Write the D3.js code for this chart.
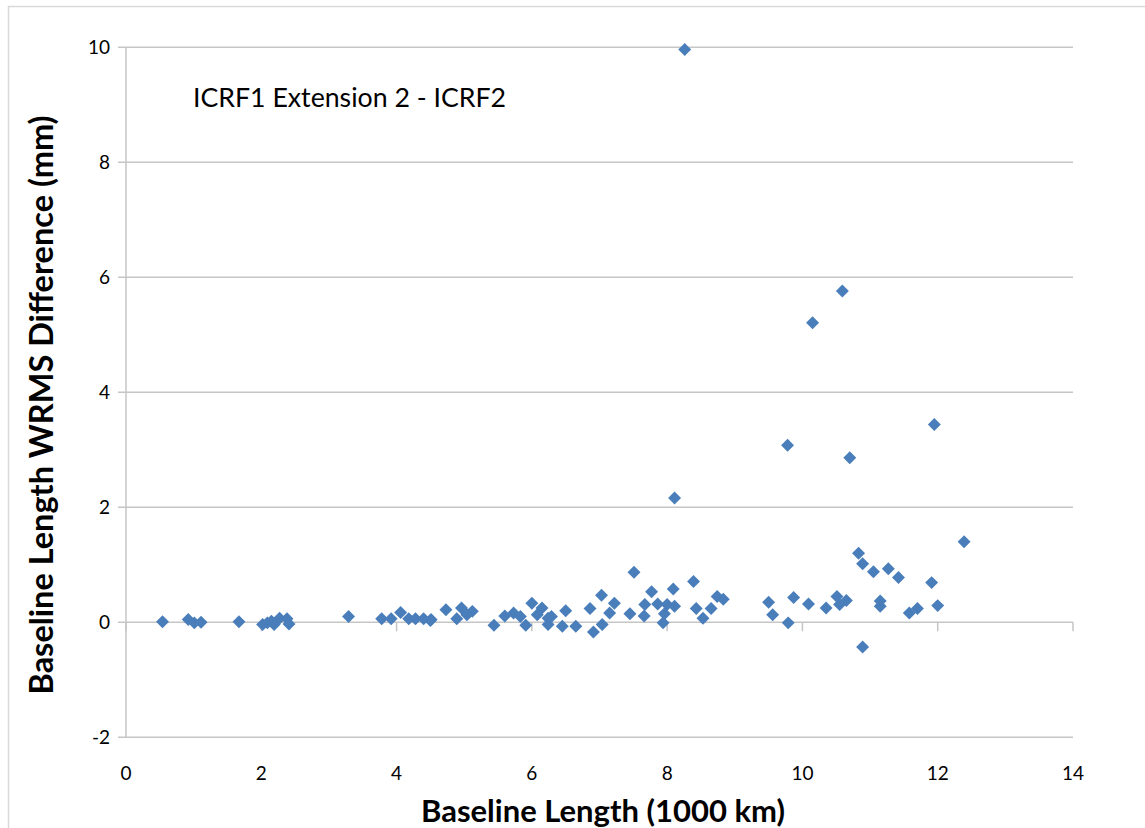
<!DOCTYPE html>
<html>
<head>
<meta charset="utf-8">
<script src="https://cdn.jsdelivr.net/npm/d3@7"></script>
<style>
  body { margin: 0; background: #fff; }
  svg text { font-family: Lato, "Open Sans", sans-serif; fill: #000; }
</style>
</head>
<body>
<svg id="chart" width="1145" height="828"></svg>
<script>
// baseline length (1000 km)
var lengths = [
  0.54, 0.92, 1.01, 1.11, 1.67, 2.02, 2.09, 2.15, 2.19, 2.27, 2.38, 2.41,
  3.29, 3.78, 3.92, 4.06, 4.18, 4.28, 4.40, 4.50, 4.51, 4.73, 4.96, 4.89,
  5.04, 5.12, 5.44, 5.60, 5.73, 5.83, 5.91, 6.00, 6.08, 6.15, 6.24, 6.24,
  6.29, 6.45, 6.50, 6.65, 6.86, 6.91, 7.03, 7.04, 7.15, 7.22, 7.45, 7.51,
  7.66, 7.67, 7.77, 7.86, 7.94, 8.00, 7.96, 8.09, 8.11, 8.11, 8.26, 8.39,
  8.43, 8.53, 8.65, 8.74, 8.83, 9.50, 9.56, 9.78, 9.79, 9.87, 10.09, 10.15,
  10.35, 10.51, 10.55, 10.59, 10.65, 10.70, 10.83, 10.89, 10.89, 11.05, 11.15, 11.15,
  11.27, 11.42, 11.58, 11.70, 11.91, 11.95, 12.00, 12.39
];
// WRMS difference (mm)
var wrms = [
  0.01, 0.05, -0.01, 0.00, 0.01, -0.04, -0.01, 0.02, -0.04, 0.07, 0.06, -0.03,
  0.10, 0.06, 0.06, 0.17, 0.06, 0.06, 0.06, 0.03, 0.05, 0.22, 0.25, 0.06,
  0.13, 0.19, -0.05, 0.11, 0.16, 0.10, -0.05, 0.33, 0.13, 0.25, 0.07, -0.04,
  0.10, -0.07, 0.20, -0.07, 0.24, -0.17, 0.47, -0.04, 0.16, 0.33, 0.15, 0.87,
  0.11, 0.31, 0.53, 0.32, -0.01, 0.31, 0.15, 0.58, 0.28, 2.16, 9.96, 0.71,
  0.24, 0.07, 0.24, 0.45, 0.40, 0.35, 0.13, 3.08, -0.01, 0.43, 0.32, 5.21,
  0.25, 0.45, 0.31, 5.76, 0.38, 2.86, 1.20, 1.02, -0.43, 0.88, 0.37, 0.28,
  0.93, 0.78, 0.16, 0.24, 0.69, 3.44, 0.29, 1.40
];
var xTicks = [0, 2, 4, 6, 8, 10, 12, 14];
var yTicks = [-2, 0, 2, 4, 6, 8, 10];

var svg = d3.select('#chart');
var margin = {top: 47.3, right: 72, bottom: 90.7, left: 126},
    width  = 1145 - margin.left - margin.right,
    height = 828 - margin.top - margin.bottom;

// outer chart border
svg.append('rect')
   .attr('x', 8.5).attr('y', 6.5)
   .attr('width', 1150).attr('height', 840)
   .attr('fill', 'none').attr('stroke', '#d9d9d9').attr('stroke-width', 1.5);

var g = svg.append('g')
           .attr('transform', 'translate(' + margin.left + ',' + margin.top + ')');

var x = d3.scaleLinear().domain([0, 14]).range([0, width]),
    y = d3.scaleLinear().domain([-2, 10]).range([height, 0]);

// gridlines
g.selectAll('line.grid')
 .data(yTicks)
 .enter().append('line')
   .attr('class', 'grid')
   .attr('x1', -8).attr('x2', width)
   .attr('y1', function (d) { return y(d); })
   .attr('y2', function (d) { return y(d); })
   .attr('stroke', '#c6c6c6').attr('stroke-width', 1.5);

// vertical axis line
g.append('line')
 .attr('x1', 0).attr('x2', 0)
 .attr('y1', 0).attr('y2', height)
 .attr('stroke', '#c6c6c6').attr('stroke-width', 1.5);

// horizontal axis crosses at 0, tick marks down from it
g.selectAll('line.xtick')
 .data(xTicks)
 .enter().append('line')
   .attr('class', 'xtick')
   .attr('x1', function (d) { return x(d); })
   .attr('x2', function (d) { return x(d); })
   .attr('y1', y(0)).attr('y2', y(0) + 9)
   .attr('stroke', '#c6c6c6').attr('stroke-width', 1.5);

// tick labels
g.selectAll('text.ylab')
 .data(yTicks)
 .enter().append('text')
   .attr('class', 'ylab')
   .attr('x', -16)
   .attr('y', function (d) { return y(d); })
   .attr('dy', '0.35em')
   .attr('text-anchor', 'end')
   .style('font-size', '19px')
   .text(function (d) { return d; });

g.selectAll('text.xlab')
 .data(xTicks)
 .enter().append('text')
   .attr('class', 'xlab')
   .attr('x', function (d) { return x(d); })
   .attr('y', height + 36)
   .attr('dy', '0.35em')
   .attr('text-anchor', 'middle')
   .style('font-size', '19px')
   .text(function (d) { return d; });

// points
var pts = lengths.map(function (d, i) { return {len: d, val: wrms[i]}; });
var diamond = d3.symbol().type(d3.symbolSquare).size(84);
g.selectAll('path.pt')
 .data(pts)
 .enter().append('path')
   .attr('class', 'pt')
   .attr('d', diamond)
   .attr('transform', function (d) {
       return 'translate(' + x(d.len) + ',' + y(d.val) + ') rotate(45)';
   })
   .attr('fill', '#4a7ebb');

// annotation
svg.append('text')
   .attr('x', 193).attr('y', 98)
   .attr('dy', '0.35em')
   .style('font-size', '26.7px')
   .text('ICRF1 Extension 2 - ICRF2');

// axis titles
svg.append('text')
   .attr('x', 603).attr('y', 811)
   .attr('dy', '0.35em')
   .attr('text-anchor', 'middle')
   .style('font-size', '31px').style('font-weight', 'bold')
   .text('Baseline Length (1000 km)');

svg.append('text')
   .attr('transform', 'translate(42,405) rotate(-90)')
   .attr('dy', '0.35em')
   .attr('text-anchor', 'middle')
   .style('font-size', '32.5px').style('font-weight', 'bold')
   .text('Baseline Length WRMS Difference (mm)');
</script>
</body>
</html>
